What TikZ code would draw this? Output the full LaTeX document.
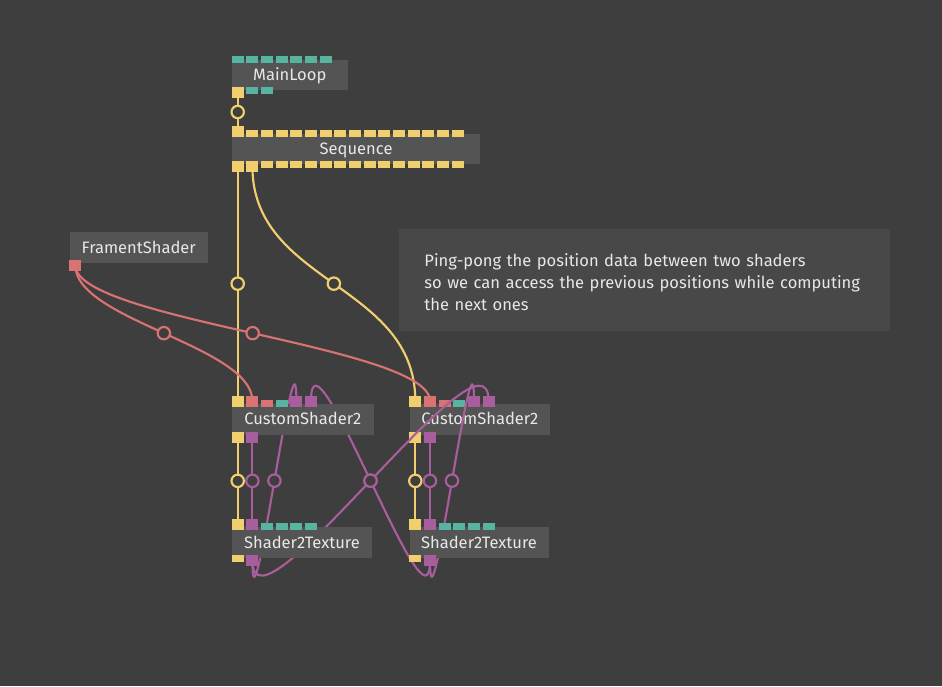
\documentclass[tikz,border=0pt]{standalone}
\usepackage{fontspec}
\setmainfont{Fira Sans}
\definecolor{bgc}{HTML}{3E3E3E}
\definecolor{boxc}{HTML}{545454}
\definecolor{cmtc}{HTML}{484848}
\definecolor{ylw}{HTML}{F2CF6E}
\definecolor{tea}{HTML}{56B4A0}
\definecolor{rdc}{HTML}{D97272}
\definecolor{ppl}{HTML}{A85E9C}
\definecolor{txt}{HTML}{E8E8E8}
\pgfdeclarelayer{bgl}
\pgfdeclarelayer{lowl}
\pgfdeclarelayer{linkl}
\pgfsetlayers{bgl,lowl,linkl,main}
\newcommand\nfont{\fontsize{12.4}{14}\selectfont}
\newcommand\cfont{\fontsize{12.4}{16.5}\selectfont}
\tikzset{
  nodebox/.style={fill=boxc, inner sep=0pt, anchor=north west, text=txt, font=\nfont, text height=8.6pt, text depth=0pt},
  cmtbox/.style={fill=cmtc, anchor=north west, text=txt, font=\cfont, align=left, inner xsep=18.75pt, inner ysep=0pt},
  pu/.style={inner sep=0pt, minimum width=9pt, minimum height=5.25pt, draw=none},
  pc/.style={inner sep=0pt, minimum width=9pt, minimum height=8.25pt, draw=none},
  lnk/.style={draw=#1, line width=1.6pt},
  midc/.style={circle, draw=#1, fill=bgc, line width=1.6pt, minimum size=9.3pt, inner sep=0pt}
}
\begin{document}
\begin{tikzpicture}[x=0.75pt,y=-0.75pt]
\begin{pgfonlayer}{bgl}
\fill[bgc] (0,0) rectangle (942,686);
\end{pgfonlayer}
\useasboundingbox (0,0) rectangle (942,686);

% comment
\node[cmtbox, minimum width=367.7pt, minimum height=77pt, text width=330pt] (cmt) at (399,228.3)
 {\rule{0pt}{12.6pt}Ping-pong the position data between two shaders\\so we can access the previous positions while computing\\the next ones};

% MainLoop
\node[nodebox, minimum width=86.7pt, minimum height=23pt] (ml) at (231.7,59.3) {MainLoop};
\foreach \k in {0,...,6} \node[pu, fill=tea, anchor=south] (ml-i\k) at ({237.7+14.67*\k},62.8) {};
\node[pc, fill=ylw, anchor=north] (ml-o1) at (237.7,87.2) {};
\node[pu, fill=tea, anchor=north] (ml-o2) at (252.4,87.2) {};
\node[pu, fill=tea, anchor=north] (ml-o3) at (267.0,87.2) {};

% Sequence
\node[nodebox, minimum width=186.2pt, minimum height=22.5pt] (sq) at (231.7,133.3) {Sequence};
\node[pc, fill=ylw, anchor=south] (sq-i1) at (237.7,136.8) {};
\foreach \k in {1,...,15} \node[pu, fill=ylw, anchor=south] (sq-i\k x) at ({237.7+14.67*\k},136.8) {};
\node[pc, fill=ylw, anchor=north] (sq-o1) at (237.7,160.5) {};
\node[pc, fill=ylw, anchor=north] (sq-o2) at (252.4,160.5) {};
\foreach \k in {2,...,15} \node[pu, fill=ylw, anchor=north] (sq-o\k x) at ({237.7+14.67*\k},160.5) {};

% FramentShader
\node[nodebox, minimum width=103.8pt, minimum height=23pt] (fs) at (69.3,231.7) {FramentShader};
\node[pc, fill=rdc, anchor=north] (fs-o1) at (75.3,259.5) {};

% CustomShader2 (1)
\node[nodebox, minimum width=106.2pt, minimum height=23.2pt] (cs1) at (231.7,403.3) {CustomShader2};
\node[pc, fill=ylw, anchor=south] (cs1-i1) at (237.7,406.8) {};
\node[pc, fill=rdc, anchor=south] (cs1-i2) at (252.4,406.8) {};
\node[pu, fill=rdc, anchor=south] (cs1-i3) at (267.0,406.8) {};
\node[pu, fill=tea, anchor=south] (cs1-i4) at (281.7,406.8) {};
\node[pc, fill=ppl, anchor=south] (cs1-i5) at (296.4,406.8) {};
\node[pc, fill=ppl, anchor=south] (cs1-i6) at (311.0,406.8) {};
\node[pc, fill=ylw, anchor=north] (cs1-o1) at (237.7,431.5) {};
\node[pc, fill=ppl, anchor=north] (cs1-o2) at (252.4,431.5) {};

% CustomShader2 (2) - below the links
\begin{pgfonlayer}{lowl}
\node[nodebox, minimum width=105.5pt, minimum height=23.2pt] (cs2) at (409.3,403.3) {CustomShader2};
\node[pc, fill=ylw, anchor=south] (cs2-i1) at (415.3,406.8) {};
\node[pc, fill=rdc, anchor=south] (cs2-i2) at (430.0,406.8) {};
\node[pu, fill=rdc, anchor=south] (cs2-i3) at (444.6,406.8) {};
\node[pu, fill=tea, anchor=south] (cs2-i4) at (459.3,406.8) {};
\node[pc, fill=ppl, anchor=south] (cs2-i5) at (474.0,406.8) {};
\node[pc, fill=ppl, anchor=south] (cs2-i6) at (488.6,406.8) {};
\node[pc, fill=ylw, anchor=north] (cs2-o1) at (415.3,431.5) {};
\node[pc, fill=ppl, anchor=north] (cs2-o2) at (430.0,431.5) {};
\end{pgfonlayer}

% Shader2Texture (1)
\node[nodebox, minimum width=105pt, minimum height=23pt] (st1) at (231.7,526.7) {Shader2Texture};
\node[pc, fill=ylw, anchor=south] (st1-i1) at (237.7,530.2) {};
\node[pc, fill=ppl, anchor=south] (st1-i2) at (252.4,530.2) {};
\foreach \k in {2,...,5} \node[pu, fill=tea, anchor=south] (st1-i\k x) at ({237.7+14.67*\k},530.2) {};
\node[pu, fill=ylw, anchor=north] (st1-o1) at (237.7,554.5) {};
\node[pc, fill=ppl, anchor=north] (st1-o2) at (252.4,554.5) {};

% Shader2Texture (2)
\node[nodebox, minimum width=104.2pt, minimum height=23pt] (st2) at (409.3,526.7) {Shader2Texture};
\node[pc, fill=ylw, anchor=south] (st2-i1) at (415.3,530.2) {};
\node[pc, fill=ppl, anchor=south] (st2-i2) at (430.0,530.2) {};
\foreach \k in {2,...,5} \node[pu, fill=tea, anchor=south] (st2-i\k x) at ({415.3+14.67*\k},530.2) {};
\node[pu, fill=ylw, anchor=north] (st2-o1) at (415.3,554.5) {};
\node[pc, fill=ppl, anchor=north] (st2-o2) at (430.0,554.5) {};

% links
\begin{pgfonlayer}{linkl}
\draw[lnk=ylw] (ml-o1.center) .. controls +(0,15) and +(0,-15) .. (sq-i1.center) node[midc=ylw, pos=0.5] (m1) {};
\draw[lnk=ylw] (sq-o1.center) .. controls +(0,60) and +(0,-60) .. (cs1-i1.center) node[midc=ylw, pos=0.5] (m2) {};
\draw[lnk=ylw] (sq-o2.center) .. controls +(0,118) and +(0,-118) .. (cs2-i1.center) node[midc=ylw, pos=0.5] (m3) {};
\draw[lnk=rdc] (fs-o1.center) .. controls +(0,55) and +(0,-55) .. (cs1-i2.center) node[midc=rdc, pos=0.5] (m4) {};
\draw[lnk=rdc] (fs-o1.center) .. controls +(0,55) and +(0,-55) .. (cs2-i2.center) node[midc=rdc, pos=0.5] (m5) {};
\draw[lnk=ylw] (cs1-o1.center) .. controls +(0,30) and +(0,-30) .. (st1-i1.center) node[midc=ylw, pos=0.5] (m6) {};
\draw[lnk=ppl] (cs1-o2.center) .. controls +(0,30) and +(0,-30) .. (st1-i2.center) node[midc=ppl, pos=0.5] (m7) {};
\draw[lnk=ylw] (cs2-o1.center) .. controls +(0,30) and +(0,-30) .. (st2-i1.center) node[midc=ylw, pos=0.5] (m8) {};
\draw[lnk=ppl] (cs2-o2.center) .. controls +(0,30) and +(0,-30) .. (st2-i2.center) node[midc=ppl, pos=0.5] (m9) {};
\draw[lnk=ppl] (st1-o2.center) .. controls +(0,95) and +(0,-95) .. (cs1-i5.center) node[midc=ppl, pos=0.5] (m10) {};
\draw[lnk=ppl] (st1-o2.center) .. controls +(0,90) and +(0,-90) .. (cs2-i6.center) node[midc=ppl, pos=0.5] (m11) {};
\draw[lnk=ppl] (st2-o2.center) .. controls +(0,95) and +(0,-95) .. (cs2-i5.center) node[midc=ppl, pos=0.5] (m12) {};
\draw[lnk=ppl] (st2-o2.center) .. controls +(0,90) and +(0,-90) .. (cs1-i6.center) node[midc=ppl, pos=0.5] (m13) {};
\end{pgfonlayer}
\end{tikzpicture}
\end{document}
